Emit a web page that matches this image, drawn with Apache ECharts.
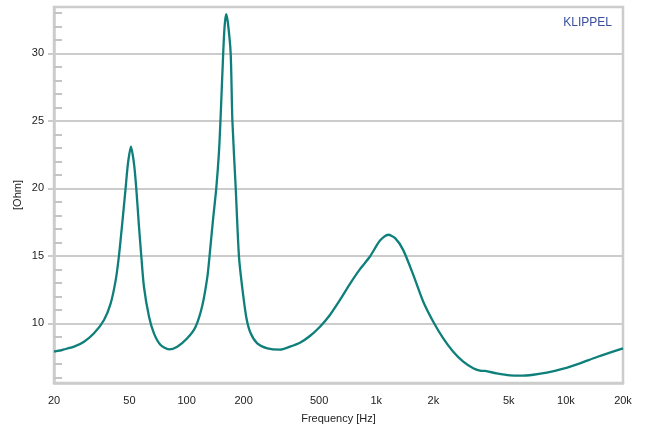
<!DOCTYPE html>
<html>
<head>
<meta charset="utf-8">
<script src="https://cdn.jsdelivr.net/npm/echarts@6/dist/echarts.min.js"></script>
<style>
html,body{margin:0;padding:0;background:#fff;}
#chart{width:649px;height:432px;}
</style>
</head>
<body>
<div id="chart"></div>
<script>
const frequencies = [20, 22.6, 25.5, 28.8, 32.5, 36.7, 39.8, 42.3, 44.0, 45.8, 47.7, 49.1, 50.9, 52.8, 54.3, 56.1, 57.7, 59.6, 63.4, 67.3, 73.0, 80.8, 89.3, 100.8, 111.6, 121, 128.6, 132.2, 137.8, 143.4, 148.2, 151.2, 156, 158.5, 161.4, 165, 170.8, 174.4, 181.6, 188.8, 196, 206.8, 217.8, 235.8, 266.6, 310.8, 350.9, 396, 447, 505, 570, 644, 727, 821, 927, 1047, 1157, 1258, 1386, 1568, 1770, 1998, 2256, 2547, 2876, 3247, 3522, 3744, 4312, 5077, 5732, 6737, 7930, 9692, 11848, 14480, 17680, 20000];
const impedance = [7.9, 8.07, 8.27, 8.64, 9.26, 10.25, 11.48, 13.2, 15, 17.41, 20, 21.85, 23.08, 21.85, 20, 17.2, 15, 12.71, 10.49, 9.26, 8.39, 8.07, 8.27, 8.89, 9.75, 11.3, 13.4, 15, 17.65, 20, 22.7, 25.3, 30, 31.9, 32.9, 32.3, 30, 25, 20, 15, 12.8, 10.4, 9.26, 8.52, 8.15, 8.05, 8.27, 8.56, 9.06, 9.75, 10.62, 11.73, 12.92, 14.01, 14.95, 16.13, 16.56, 16.31, 15.44, 13.59, 11.6, 10.12, 8.89, 7.9, 7.16, 6.67, 6.49, 6.47, 6.3, 6.15, 6.12, 6.19, 6.34, 6.64, 7.04, 7.49, 7.9, 8.15];
const xTickValues = [20, 50, 100, 200, 500, 1000, 2000, 5000, 10000, 20000];
const yMajorTicks = [10, 15, 20, 25, 30];
const yMinorTicks = [6, 7, 8, 9, 11, 12, 13, 14, 16, 17, 18, 19, 21, 22, 23, 24, 26, 27, 28, 29, 31, 32, 33];
const yMin = 5.58, yMax = 33.43;

const points = frequencies.map((f, i) => [f, impedance[i]]);
const gray = '#cccccc';
const font = 'Liberation Sans, Arial, sans-serif';

const chart = echarts.init(document.getElementById('chart'), null, {renderer: 'canvas'});
chart.setOption({
  animation: false,
  backgroundColor: '#ffffff',
  grid: {left: 54, right: 26, top: 7, bottom: 49, show: true, borderColor: gray, borderWidth: 2.5},
  xAxis: {
    type: 'log', logBase: 10, min: 20, max: 20000,
    name: 'Frequency [Hz]', nameLocation: 'middle', nameGap: 30, nameMoveOverlap: false,
    nameTextStyle: {fontFamily: font, fontSize: 11, color: '#222'},
    axisLine: {show: true, lineStyle: {color: gray, width: 2.5}},
    axisTick: {show: false},
    splitLine: {show: false},
    minorTick: {show: false}, minorSplitLine: {show: false},
    axisLabel: {
      customValues: xTickValues, margin: 12,
      fontFamily: font, fontSize: 11, color: '#222',
      formatter: v => v >= 1000 ? (v / 1000) + 'k' : String(v)
    }
  },
  yAxis: [
    {
      type: 'value', min: yMin, max: yMax, position: 'left',
      name: '[Ohm]', nameLocation: 'middle', nameGap: 31, nameRotate: 90, nameMoveOverlap: false,
      nameTextStyle: {fontFamily: font, fontSize: 11, color: '#222'},
      axisLine: {show: true, lineStyle: {color: gray, width: 2.5}},
      axisTick: {show: true, customValues: yMajorTicks, length: 6, lineStyle: {color: gray, width: 2}},
      axisLabel: {customValues: yMajorTicks, margin: 10, fontFamily: font, fontSize: 11, color: '#222'},
      splitLine: {show: true, lineStyle: {color: gray, width: 2}}
    },
    {
      type: 'value', min: yMin, max: yMax, position: 'left',
      axisLine: {show: false},
      axisTick: {show: true, inside: true, customValues: yMinorTicks, length: 8, lineStyle: {color: '#c4c4c4', width: 2}},
      axisLabel: {show: false},
      splitLine: {show: false}
    }
  ],
  graphic: [{
    type: 'text', right: 37, top: 17,
    style: {text: 'KLIPPEL', fill: '#3b4f9f', font: '12px ' + font}
  }],
  series: [{
    type: 'line', data: points, yAxisIndex: 0,
    showSymbol: false, smooth: 0.25,
    lineStyle: {color: '#0e7f7a', width: 2.3},
    itemStyle: {color: '#0e7f7a'}
  }]
});
</script>
</body>
</html>
